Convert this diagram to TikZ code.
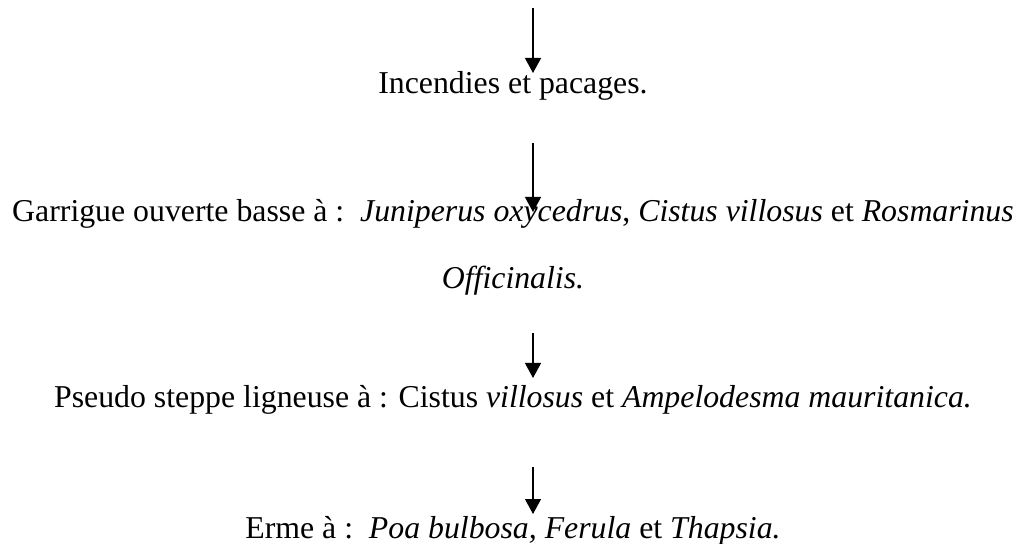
\documentclass[tikz,border=0pt]{standalone}
\usepackage{fontspec}
\setmainfont{Liberation Serif}
\usetikzlibrary{arrows.meta, positioning}

\begin{document}
\begin{tikzpicture}[
        x=0.5pt, y=-0.5pt,
        stage/.style={inner sep=0pt, anchor=base, font=\fontsize{15.9}{19}\selectfont},
        down/.style={-{Triangle[width=8pt, length=7.5pt]}, line width=0.65pt}
    ]
    \useasboundingbox (0,0) rectangle (1021,544);

    % Stages
    \node[stage] (incendies) at (513,94) {Incendies et pacages.};
    \node[stage] (garrigue) at (513,222) {Garrigue ouverte basse à :\ \ \textit{Juniperus oxycedrus}, \textit{Cistus villosus} et \textit{Rosmarinus}};
    \node[stage] (officinalis) at (513,289) {\textit{Officinalis.}};
    \node[stage] (pseudo) at (513,408) {Pseudo steppe ligneuse à : Cistus \textit{villosus} et \textit{Ampelodesma mauritanica.}};
    \node[stage] (erme) at (513,538) {Erme à :\ \ \textit{Poa bulbosa,} \textit{Ferula} et \textit{Thapsia.}};

    % Arrows
    \foreach \ya/\yb [count=\i] in {8/73, 143/212, 333/378, 467/514} {
        \coordinate (from\i) at (533,\ya);
        \coordinate (to\i) at (533,\yb);
        \draw[down] (from\i) -- (to\i);
    }
\end{tikzpicture}
\end{document}
